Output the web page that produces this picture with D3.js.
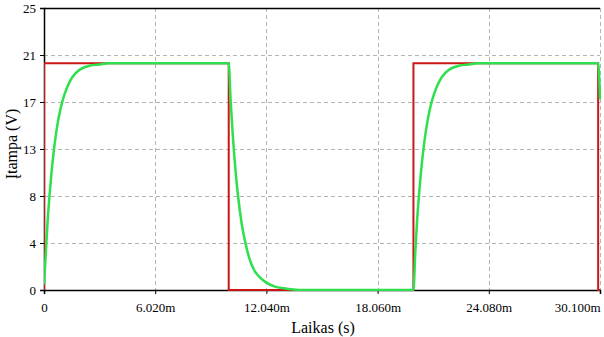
<!DOCTYPE html>
<html>
<head>
<meta charset="utf-8">
<script src="https://cdn.jsdelivr.net/npm/d3@7"></script>
<style>
  body { margin: 0; background: #fff; }
  svg text { font-family: "Liberation Serif", "Times New Roman", serif !important; }
</style>
</head>
<body>
<div id="chart"></div>
<script>
// Tick values and labels (time in ms, voltage in V)
const xTickValues = [0, 6.02, 12.04, 18.06, 24.08, 30.1];
const xTickLabels = ["0", "6.020m", "12.040m", "18.060m", "24.080m", "30.100m"];
const yTickValues = [0, 4.1667, 8.3333, 12.5, 16.6667, 20.8333, 25];
const yTickLabels = ["0", "4", "8", "13", "17", "21", "25"];

// Square wave input (red)
const inputT = [0, 0, 10, 10, 20, 20, 30, 30, 30.1];
const inputV = [0, 20.1, 20.1, 0, 0, 20.1, 20.1, 0, 0];

// Capacitor voltage (green)
const outputT = [0, 0.1, 0.2, 0.3, 0.4, 0.5, 0.7, 0.9, 1.1, 1.4, 1.7, 2.0, 2.5, 3.0, 3.5,
  10.0, 10.1, 10.2, 10.3, 10.4, 10.5, 10.7, 10.9, 11.1, 11.4, 11.7, 12.0, 12.5, 13.0, 13.5, 14.0,
  20.0, 20.1, 20.2, 20.3, 20.4, 20.5, 20.7, 20.9, 21.1, 21.4, 21.7, 22.0, 22.5, 23.0, 23.5,
  30.0, 30.1];
const outputV = [0.5, 3.3, 6.2, 8.4, 10.3, 11.9, 14.4, 16.1, 17.3, 18.5, 19.2, 19.6, 19.9, 20.0, 20.1,
  20.1, 16.9, 14.2, 11.9, 10.0, 8.4, 5.9, 4.2, 2.9, 1.7, 1.1, 0.7, 0.3, 0.15, 0.05, 0,
  0, 3.3, 6.2, 8.4, 10.3, 11.9, 14.4, 16.1, 17.3, 18.5, 19.2, 19.6, 19.9, 20.0, 20.1,
  20.1, 16.9];

const W = 604, H = 337;
const margin = { top: 8, right: 4, bottom: 47, left: 44 };
const width = W - margin.left - margin.right;
const height = H - margin.top - margin.bottom;
const serif = "'Liberation Serif', 'Times New Roman', serif";

const svg = d3.select("#chart")
  .append("svg")
    .attr("width", W)
    .attr("height", H)
    .attr("font-family", serif)
  .append("g")
    .attr("transform", `translate(${margin.left},${margin.top})`);

const x = d3.scaleLinear().domain([0, 30.1]).range([0, width]);
const y = d3.scaleLinear().domain([0, 25]).range([height, 0]);

// Grid
svg.append("g")
  .selectAll("line")
  .data(yTickValues.slice(1, -1))
  .enter().append("line")
    .attr("x1", 0).attr("x2", width)
    .attr("y1", d => Math.round(y(d)) + 0.5).attr("y2", d => Math.round(y(d)) + 0.5)
    .attr("stroke", "#b4b4b4").attr("stroke-dasharray", "4,3");

svg.append("g")
  .selectAll("line")
  .data(xTickValues.slice(1))
  .enter().append("line")
    .attr("x1", d => Math.round(x(d)) + 0.5).attr("x2", d => Math.round(x(d)) + 0.5)
    .attr("y1", 0).attr("y2", height)
    .attr("stroke", "#b4b4b4").attr("stroke-dasharray", "4,3");

// Top frame line
svg.append("line")
  .attr("x1", 0).attr("x2", width)
  .attr("y1", 0.5).attr("y2", 0.5)
  .attr("stroke", "#000").attr("stroke-width", 1.5);

// Axes
const xAxis = svg.append("g")
  .attr("transform", `translate(0,${height})`)
  .call(d3.axisBottom(x).tickValues(xTickValues).tickSize(4)
    .tickFormat((d, i) => xTickLabels[i]));

const yAxis = svg.append("g")
  .call(d3.axisLeft(y).tickValues(yTickValues).tickSize(4)
    .tickFormat((d, i) => yTickLabels[i]));

[xAxis, yAxis].forEach(a => {
  a.attr("font-family", serif);
  a.select(".domain").attr("stroke", "#000").attr("stroke-width", 1.5);
  a.selectAll(".tick line").attr("stroke", "#000");
  a.selectAll("text").attr("font-size", 13).attr("fill", "#000");
});
xAxis.selectAll("text").attr("dy", "1.15em");
// last label kept inside the window
xAxis.selectAll(".tick:last-of-type text").attr("text-anchor", "end").attr("x", 0);
yAxis.selectAll("text").attr("x", -8);

// Clip
svg.append("clipPath").attr("id", "clip")
  .append("rect").attr("x", 0).attr("y", -2).attr("width", width + 1).attr("height", height + 3);

const inputData = inputT.map((t, i) => ({ t, v: inputV[i] }));
const outputData = outputT.map((t, i) => ({ t, v: outputV[i] }));

svg.append("path")
  .datum(inputData)
  .attr("clip-path", "url(#clip)")
  .attr("fill", "none")
  .attr("stroke", "#cc1616")
  .attr("stroke-width", 2)
  .attr("d", d3.line().x(d => x(d.t)).y(d => y(d.v)));

svg.append("path")
  .datum(outputData)
  .attr("clip-path", "url(#clip)")
  .attr("fill", "none")
  .attr("stroke", "#2ee04e")
  .attr("stroke-width", 2.5)
  .attr("d", d3.line().x(d => x(d.t)).y(d => y(d.v)).curve(d3.curveMonotoneX));

// Axis titles
svg.append("text")
  .attr("x", width / 2 + 1)
  .attr("y", height + 43)
  .attr("text-anchor", "middle")
  .attr("font-size", 16)
  .text("Laikas (s)");

svg.append("text")
  .attr("transform", `translate(${-27},${height / 2 - 5}) rotate(-90)`)
  .attr("text-anchor", "middle")
  .attr("font-size", 16)
  .text("Įtampa (V)");
</script>
</body>
</html>
